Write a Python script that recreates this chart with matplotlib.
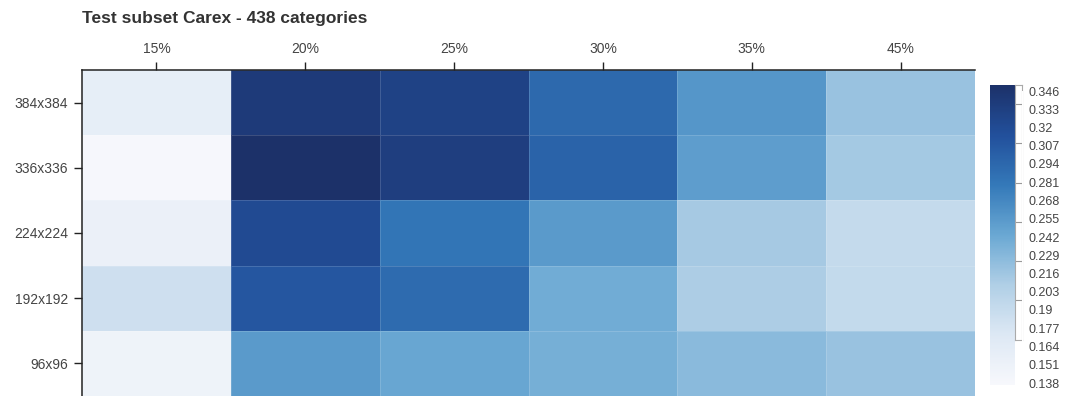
import numpy as np
import matplotlib.pyplot as plt
from matplotlib.colors import LinearSegmentedColormap

plt.rcParams['font.family'] = ['Liberation Sans', 'DejaVu Sans']

# accuracy per input resolution (rows) and subset fraction (columns)
resolutions = ['384x384', '336x336', '224x224', '192x192', '96x96']
fractions = ['15%', '20%', '25%', '30%', '35%', '45%']
scores = np.array([
    [0.160, 0.335, 0.327, 0.290, 0.255, 0.219],
    [0.140, 0.346, 0.331, 0.295, 0.250, 0.213],
    [0.155, 0.318, 0.280, 0.252, 0.212, 0.192],
    [0.185, 0.306, 0.288, 0.238, 0.209, 0.193],
    [0.150, 0.252, 0.243, 0.236, 0.226, 0.219],
])
cbar_ticks = [0.138, 0.151, 0.164, 0.177, 0.19, 0.203, 0.216, 0.229, 0.242,
              0.255, 0.268, 0.281, 0.294, 0.307, 0.32, 0.333, 0.346]
# marks on the thin strip beside the colour bar
strip_ticks = [0.333, 0.306, 0.278, 0.251, 0.224, 0.197]

vmin, vmax = 0.138, 0.346
cmap = LinearSegmentedColormap.from_list(
    'blues', ['#f7f8fc', '#dde8f4', '#b0cfe6', '#6aa8d3', '#3479b9',
              '#22509c', '#1c3169'])

W, H = 1073, 396
fig = plt.figure(figsize=(W / 100, H / 100), dpi=100)
ax = fig.add_axes([82 / W, 0, (975 - 82) / W, (396 - 70) / H])

mesh = ax.pcolormesh(scores, cmap=cmap, vmin=vmin, vmax=vmax,
                     edgecolors=(1, 1, 1, 0.15), linewidth=0.6)
ax.set_xlim(0, len(fractions))
ax.set_ylim(len(resolutions), 0)
ax.xaxis.tick_top()
ax.set_xticks(np.arange(len(fractions)) + 0.5)
ax.set_xticklabels(fractions)
ax.set_yticks(np.arange(len(resolutions)) + 0.5)
ax.set_yticklabels(resolutions)
ax.tick_params(axis='both', length=6, width=1, color='#222',
               labelsize=10, labelcolor='#444', pad=4)
for side in ('right', 'bottom'):
    ax.spines[side].set_visible(False)
for side in ('left', 'top'):
    ax.spines[side].set_linewidth(1.1)
    ax.spines[side].set_color('#222')

fig.text(82 / W, 1 - 19 / H, 'Test subset Carex - 438 categories',
         fontsize=12.5, fontweight='bold', color='#333', va='center')

# colour bar
bar_top, bar_bot = 85, 385
cax = fig.add_axes([990 / W, (H - bar_bot) / H, 25 / W, (bar_bot - bar_top) / H])
cb = fig.colorbar(mesh, cax=cax)
cb.set_ticks([])
cb.outline.set_visible(False)

# white strip with marks
strip_bot = 340
sax = fig.add_axes([1015 / W, (H - strip_bot) / H, 7 / W,
                    (strip_bot - bar_top) / H])
vpp = (vmax - vmin) / (bar_bot - bar_top)
sax.set_ylim(vmax - (strip_bot - bar_top) * vpp, vmax)
sax.set_xticks([])
sax.set_yticks(strip_ticks)
sax.set_yticklabels([])
sax.tick_params(axis='y', direction='in', length=5, width=0.8, color='#999')
for sp in sax.spines.values():
    sp.set_linewidth(0.8)
    sp.set_color('#aaa')

# legend values, evenly spread beside the bar
lab_top, lab_bot = 91, 383
lax = fig.add_axes([1022 / W, (H - lab_bot) / H, 1 / W, (lab_bot - lab_top) / H])
lax.set_ylim(vmin, vmax)
lax.set_xticks([])
lax.set_yticks(cbar_ticks)
lax.set_yticklabels([f'{t:g}' for t in cbar_ticks])
lax.yaxis.tick_right()
lax.tick_params(length=0, labelsize=9, labelcolor='#444', pad=4)
for sp in lax.spines.values():
    sp.set_visible(False)

fig.savefig('out.png', dpi=100)
